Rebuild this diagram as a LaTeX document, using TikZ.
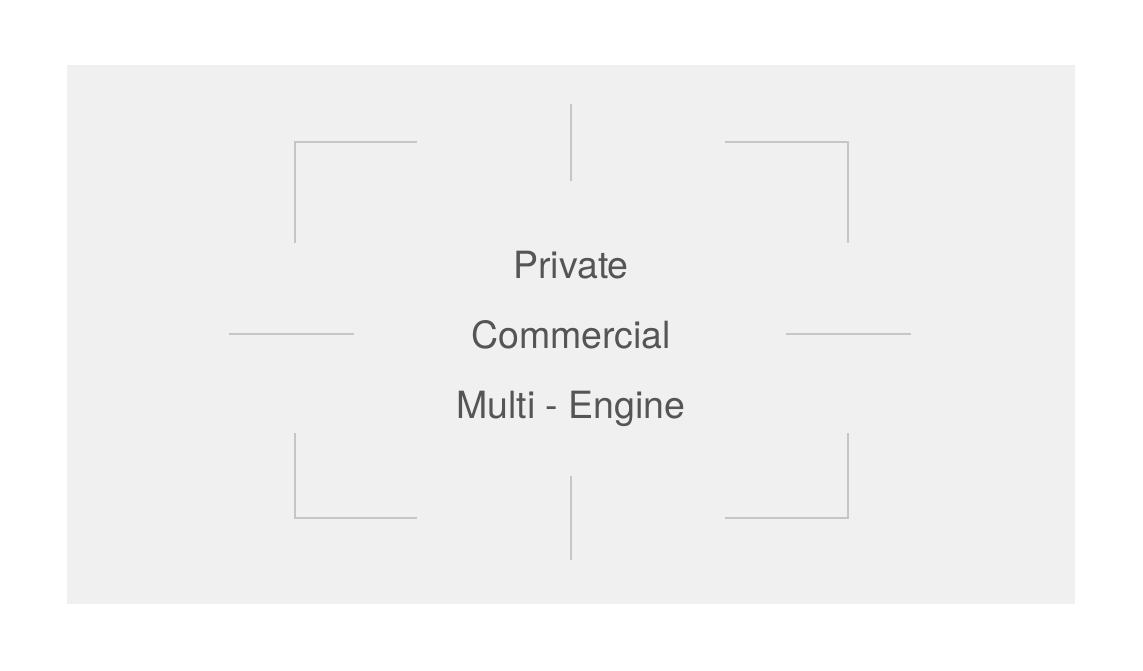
\documentclass[tikz,border=0pt]{standalone}
\usepackage{fontspec}
\setmainfont{TeX Gyre Heros}
\definecolor{bgpanel}{HTML}{F0F0F0}
\definecolor{linegray}{HTML}{C6C6C6}
\definecolor{textgray}{HTML}{555555}
\begin{document}
\begin{tikzpicture}[x=1pt,y=-1pt,
  mark line/.style={draw=linegray,line width=1.4pt},
  label text/.style={text=textgray,font=\fontsize{37.5}{40}\selectfont,anchor=base,inner sep=0pt}]
\useasboundingbox (0,0) rectangle (1143,670);
\fill[white] (0,0) rectangle (1143,670);
\fill[bgpanel] (67,65) rectangle (1075,604);
% corner brackets
\draw[mark line] (295,243) -- (295,142) -- (417,142);
\draw[mark line] (725,142) -- (848,142) -- (848,243);
\draw[mark line] (295,433) -- (295,518) -- (417,518);
\draw[mark line] (725,518) -- (848,518) -- (848,433);
% ticks
\draw[mark line] (571,104) -- (571,181);
\draw[mark line] (571,476) -- (571,560);
\draw[mark line] (229,334) -- (354,334);
\draw[mark line] (786,334) -- (911,334);
% texts
\node[label text] (private) at (571,278) {Private};
\node[label text] (commercial) at (571,348) {Commercial};
\node[label text] (multi) at (571,418) {Multi - Engine};
\end{tikzpicture}
\end{document}
